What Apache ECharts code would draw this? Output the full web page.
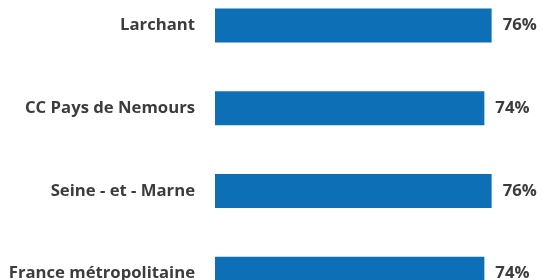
<!DOCTYPE html>
<html>
<head>
<meta charset="utf-8">
<script src="https://cdn.jsdelivr.net/npm/echarts@6/dist/echarts.min.js"></script>
<style>
  html, body { margin: 0; padding: 0; background: #fff; }
  #chart { width: 543px; height: 280px; }
</style>
</head>
<body>
<div id="chart"></div>
<script>
// territoires et parts (%)
var territoires = ['Larchant', 'CC Pays de Nemours', 'Seine - et - Marne', 'France métropolitaine']
var parts = [76, 74, 76, 74]

var chart = echarts.init(document.getElementById('chart'))
chart.setOption({
  animation: false,
  grid: {
    left: 215,
    width: 364,
    top: -16,
    height: 331,
    outerBoundsMode: 'none'
  },
  xAxis: {
    type: 'value',
    min: 0,
    max: 100,
    show: false
  },
  yAxis: {
    type: 'category',
    inverse: true,
    data: territoires,
    axisLine: { show: false },
    axisTick: { show: false },
    axisLabel: {
      margin: 20,
      color: '#3c3c3c',
      fontFamily: 'Open Sans',
      fontWeight: 'bold',
      fontSize: 16.7
    }
  },
  series: [{
    type: 'bar',
    data: parts,
    barWidth: 34,
    itemStyle: { color: '#0d6fb6' },
    label: {
      show: true,
      position: 'right',
      distance: 11,
      formatter: '{c}%',
      color: '#3c3c3c',
      fontFamily: 'Open Sans',
      fontWeight: 'bold',
      fontSize: 16.7
    }
  }]
})
</script>
</body>
</html>
